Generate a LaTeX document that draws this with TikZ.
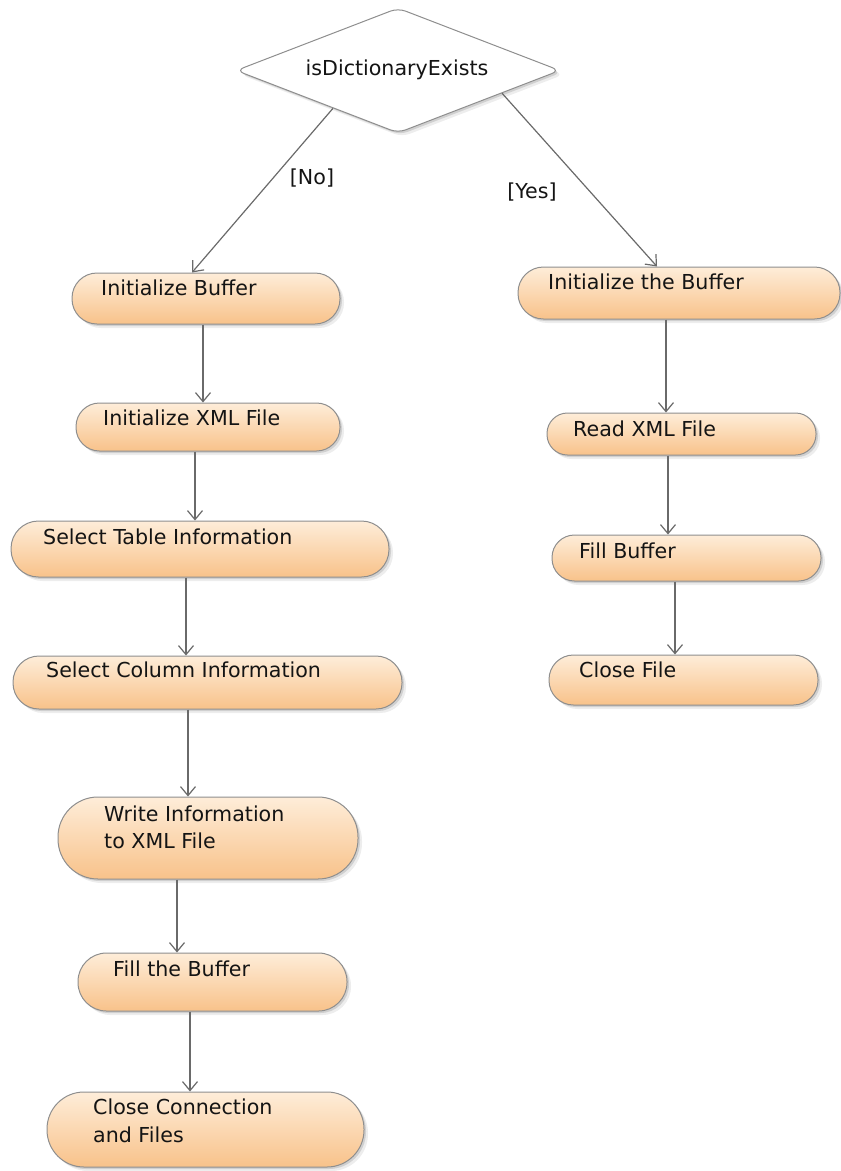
\documentclass[tikz,border=0pt]{standalone}
\usepackage{fontspec}
\setmainfont{DejaVu Sans}
\usetikzlibrary{arrows.meta,shapes.geometric,shadows,calc}
\definecolor{peachtop}{HTML}{FEEDD9}
\definecolor{peachbot}{HTML}{F8C28A}
\definecolor{edgegray}{HTML}{8E8E8E}
\definecolor{flowgray}{HTML}{6A6A6A}
\definecolor{inkcol}{HTML}{141414}

\begin{document}
\begin{tikzpicture}[x=1pt,y=-1pt,
  softshadow/.style={
    drop shadow={shadow xshift=2pt,shadow yshift=-2pt,opacity=0.12,fill=black},
    drop shadow={shadow xshift=4pt,shadow yshift=-4pt,opacity=0.07,fill=black}},
  stepbox/.style={rectangle, draw=edgegray, line width=1pt,
    top color=peachtop, bottom color=peachbot, inner sep=0pt, softshadow},
  decision/.style={diamond, draw=edgegray, line width=1pt, fill=white,
    inner sep=0pt, rounded corners=8pt, softshadow},
  txt/.style={font=\fontsize{20.6}{27}\selectfont, text=inkcol, inner sep=0pt, align=left},
  flow/.style={draw=flowgray, line width=1.2pt,
    -{Straight Barb[length=9pt,width=15pt,line width=1.2pt]}}
]
\useasboundingbox (0,0) rectangle (841,1171);

% decision
\node[decision, minimum width=324pt, minimum height=125pt] (dia) at (398,70.5) {};
\node[txt, anchor=base] (tdia) at (397,75) {isDictionaryExists};

% left branch
\node[stepbox, minimum width=268pt, minimum height=51pt, rounded corners=25pt] (n1) at (206,298.5) {};
\node[stepbox, minimum width=264pt, minimum height=48pt, rounded corners=23.5pt] (n2) at (208,427) {};
\node[stepbox, minimum width=378pt, minimum height=56pt, rounded corners=27.5pt] (n3) at (200,549) {};
\node[stepbox, minimum width=389pt, minimum height=53pt, rounded corners=26pt] (n4) at (207.5,682.5) {};
\node[stepbox, minimum width=300pt, minimum height=82pt, rounded corners=40pt] (n5) at (208,838) {};
\node[stepbox, minimum width=269pt, minimum height=58pt, rounded corners=28.5pt] (n6) at (212.5,982) {};
\node[stepbox, minimum width=317pt, minimum height=75pt, rounded corners=37pt] (n7) at (205.5,1129.5) {};

% right branch
\node[stepbox, minimum width=322pt, minimum height=52pt, rounded corners=25.5pt] (r1) at (679,293) {};
\node[stepbox, minimum width=269pt, minimum height=42pt, rounded corners=20.5pt] (r2) at (681.5,434) {};
\node[stepbox, minimum width=269pt, minimum height=46pt, rounded corners=22.5pt] (r3) at (686.5,558) {};
\node[stepbox, minimum width=269pt, minimum height=50pt, rounded corners=24.5pt] (r4) at (683.5,680) {};

% step texts
\node[txt, anchor=base west] (tn1) at (101,295) {Initialize Buffer};
\node[txt, anchor=base west] (tn2) at (103,425) {Initialize XML File};
\node[txt, anchor=base west] (tn3) at (43,544) {Select Table Information};
\node[txt, anchor=base west] (tn4) at (46,677) {Select Column Information};
\node[txt, anchor=base west] (tn5a) at (104,821) {Write Information};
\node[txt, anchor=base west] (tn5b) at (104,848) {to XML File};
\node[txt, anchor=base west] (tn6) at (113,976) {Fill the Buffer};
\node[txt, anchor=base west] (tn7a) at (93,1114) {Close Connection};
\node[txt, anchor=base west] (tn7b) at (93,1142) {and Files};
\node[txt, anchor=base west] (tr1) at (548,289) {Initialize the Buffer};
\node[txt, anchor=base west] (tr2) at (573,436) {Read XML File};
\node[txt, anchor=base west] (tr3) at (579,558) {Fill Buffer};
\node[txt, anchor=base west] (tr4) at (579,677) {Close File};

% guard labels
\node[txt] (lno) at (312,178) {[No]};
\node[txt] (lyes) at (532,192) {[Yes]};

% connectors
\draw[flow] ($(dia.south)!0.4!(dia.west)$) -- ([xshift=-14pt]n1.north);
\draw[flow] ($(dia.south)!0.64!(dia.east)$) -- ([xshift=-22pt]r1.north);

\draw[flow] ([xshift=-3pt]n1.south) -- ([xshift=-3pt]n1.south |- n2.north);
\draw[flow] ([xshift=-13pt]n2.south) -- ([xshift=-13pt]n2.south |- n3.north);
\draw[flow] ([xshift=-14pt]n3.south) -- ([xshift=-14pt]n3.south |- n4.north);
\draw[flow] ([xshift=-19.5pt]n4.south) -- ([xshift=-19.5pt]n4.south |- n5.north);
\draw[flow] ([xshift=-31pt]n5.south) -- ([xshift=-31pt]n5.south |- n6.north);
\draw[flow] ([xshift=-22.5pt]n6.south) -- ([xshift=-22.5pt]n6.south |- n7.north);

\draw[flow] ([xshift=-13pt]r1.south) -- ([xshift=-13pt]r1.south |- r2.north);
\draw[flow] ([xshift=-13.5pt]r2.south) -- ([xshift=-13.5pt]r2.south |- r3.north);
\draw[flow] ([xshift=-11.5pt]r3.south) -- ([xshift=-11.5pt]r3.south |- r4.north);
\end{tikzpicture}
\end{document}
